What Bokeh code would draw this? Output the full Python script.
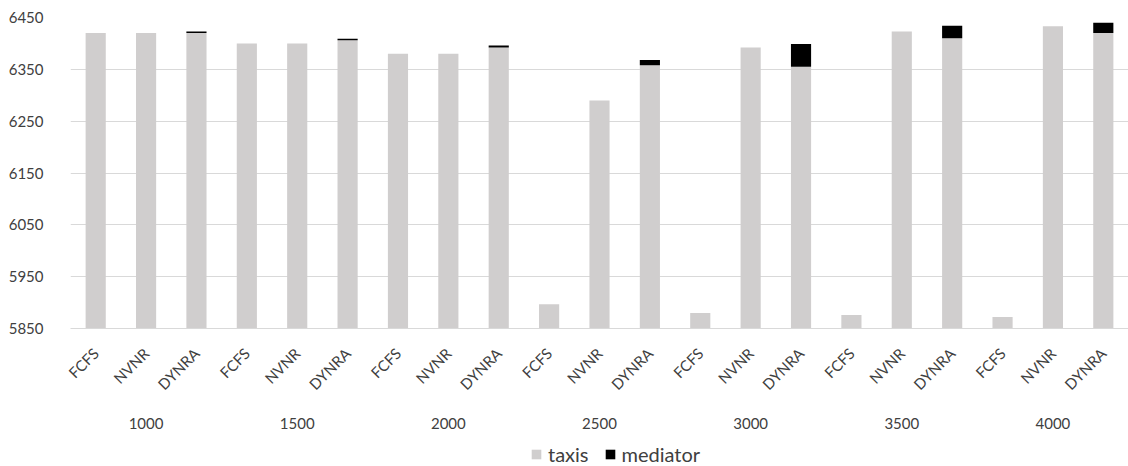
import math
from bokeh.plotting import figure
from bokeh.layouts import column
from bokeh.models import ColumnDataSource, FactorRange, FixedTicker, Legend, Range1d
from bokeh.embed import file_html
from bokeh.resources import INLINE

# Fleet sizes (outer groups) and dispatch strategies (inner bars)
fleet_sizes = ["1000", "1500", "2000", "2500", "3000", "3500", "4000"]
strategies = ["FCFS", "NVNR", "DYNRA"]

# Served requests by taxis, per fleet size
taxis_fcfs = [6420, 6400, 6380, 5897, 5880, 5876, 5872]
taxis_nvnr = [6420, 6400, 6380, 6290, 6392, 6423, 6433]
taxis_dynra = [6420, 6406, 6392, 6358, 6355, 6410, 6420]

# Additional requests served through the mediator (DYNRA only)
mediator_fcfs = [0, 0, 0, 0, 0, 0, 0]
mediator_nvnr = [0, 0, 0, 0, 0, 0, 0]
mediator_dynra = [3, 3, 4, 10, 44, 24, 20]

y_ticks = [5850, 5950, 6050, 6150, 6250, 6350, 6450]
series_names = ["taxis", "mediator"]
series_colors = ["#d0cece", "#000000"]

taxis_by = {"FCFS": taxis_fcfs, "NVNR": taxis_nvnr, "DYNRA": taxis_dynra}
mediator_by = {"FCFS": mediator_fcfs, "NVNR": mediator_nvnr, "DYNRA": mediator_dynra}

x, taxis, mediator = [], [], []
for i, fs in enumerate(fleet_sizes):
    for s in strategies:
        x.append((fs, s))
        taxis.append(taxis_by[s][i])
        mediator.append(mediator_by[s][i])

source = ColumnDataSource(data=dict(x=x, taxis=taxis, mediator=mediator))

FONT = "Lato"
TEXT = "#404040"
GRID = "#d9d9d9"

p = figure(
    width=1128, height=440,
    x_range=FactorRange(*x, group_padding=0, factor_padding=0, range_padding=0),
    y_range=(y_ticks[0], y_ticks[-1]),
    output_backend="svg", toolbar_location=None,
    min_border_left=70, min_border_right=0, min_border_top=17, min_border_bottom=112,
)

p.vbar_stack(
    series_names, x="x", width=0.4, source=source,
    color=series_colors, line_color=None,
)

p.outline_line_color = None
p.xgrid.grid_line_color = None
p.ygrid.grid_line_color = GRID
p.ygrid.grid_line_width = 1.2

p.yaxis.ticker = FixedTicker(ticks=y_ticks)
p.yaxis.axis_line_color = None
p.yaxis.major_tick_line_color = None
p.yaxis.minor_tick_line_color = None
p.yaxis.major_label_standoff = 21
p.yaxis.major_label_text_font = FONT
p.yaxis.major_label_text_font_size = "15px"
p.yaxis.major_label_text_color = TEXT

xa = p.xaxis[0]
xa.axis_line_color = GRID
xa.axis_line_width = 1.2
xa.major_tick_line_color = None
xa.minor_tick_line_color = None
xa.major_label_orientation = math.pi / 4
xa.major_label_standoff = 16
xa.major_label_text_font = FONT
xa.major_label_text_font_size = "15px"
xa.major_label_text_color = TEXT
xa.group_label_orientation = "horizontal"
xa.group_text_font = FONT
xa.group_text_font_size = "15px"
xa.group_text_color = TEXT
xa.group_text_font_style = "normal"
xa.separator_line_alpha = 0

# Legend strip under the chart; its stacked bars fall below the visible y range
leg = figure(
    width=1128, height=26,
    x_range=FactorRange(*x, group_padding=0, factor_padding=0, range_padding=0),
    y_range=Range1d(100000, 100001),
    output_backend="svg", toolbar_location=None,
    min_border_left=70, min_border_right=0, min_border_top=0, min_border_bottom=0,
)
leg.axis.visible = False
leg.grid.visible = False
leg.outline_line_color = None

stack = leg.vbar_stack(
    series_names, x="x", width=0.4, source=source,
    color=series_colors, line_color=None,
)

legend = Legend(
    items=[(name, [r]) for name, r in zip(series_names, stack)],
    orientation="horizontal", location=(460, 0),
    border_line_alpha=0, background_fill_alpha=0,
    label_text_font=FONT, label_text_font_size="20px", label_text_color=TEXT,
    glyph_width=12, glyph_height=12, spacing=15, label_standoff=6,
    padding=0, margin=0,
)
leg.add_layout(legend, "center")

open("out.html", "w").write(file_html(column(p, leg, spacing=0), INLINE))
